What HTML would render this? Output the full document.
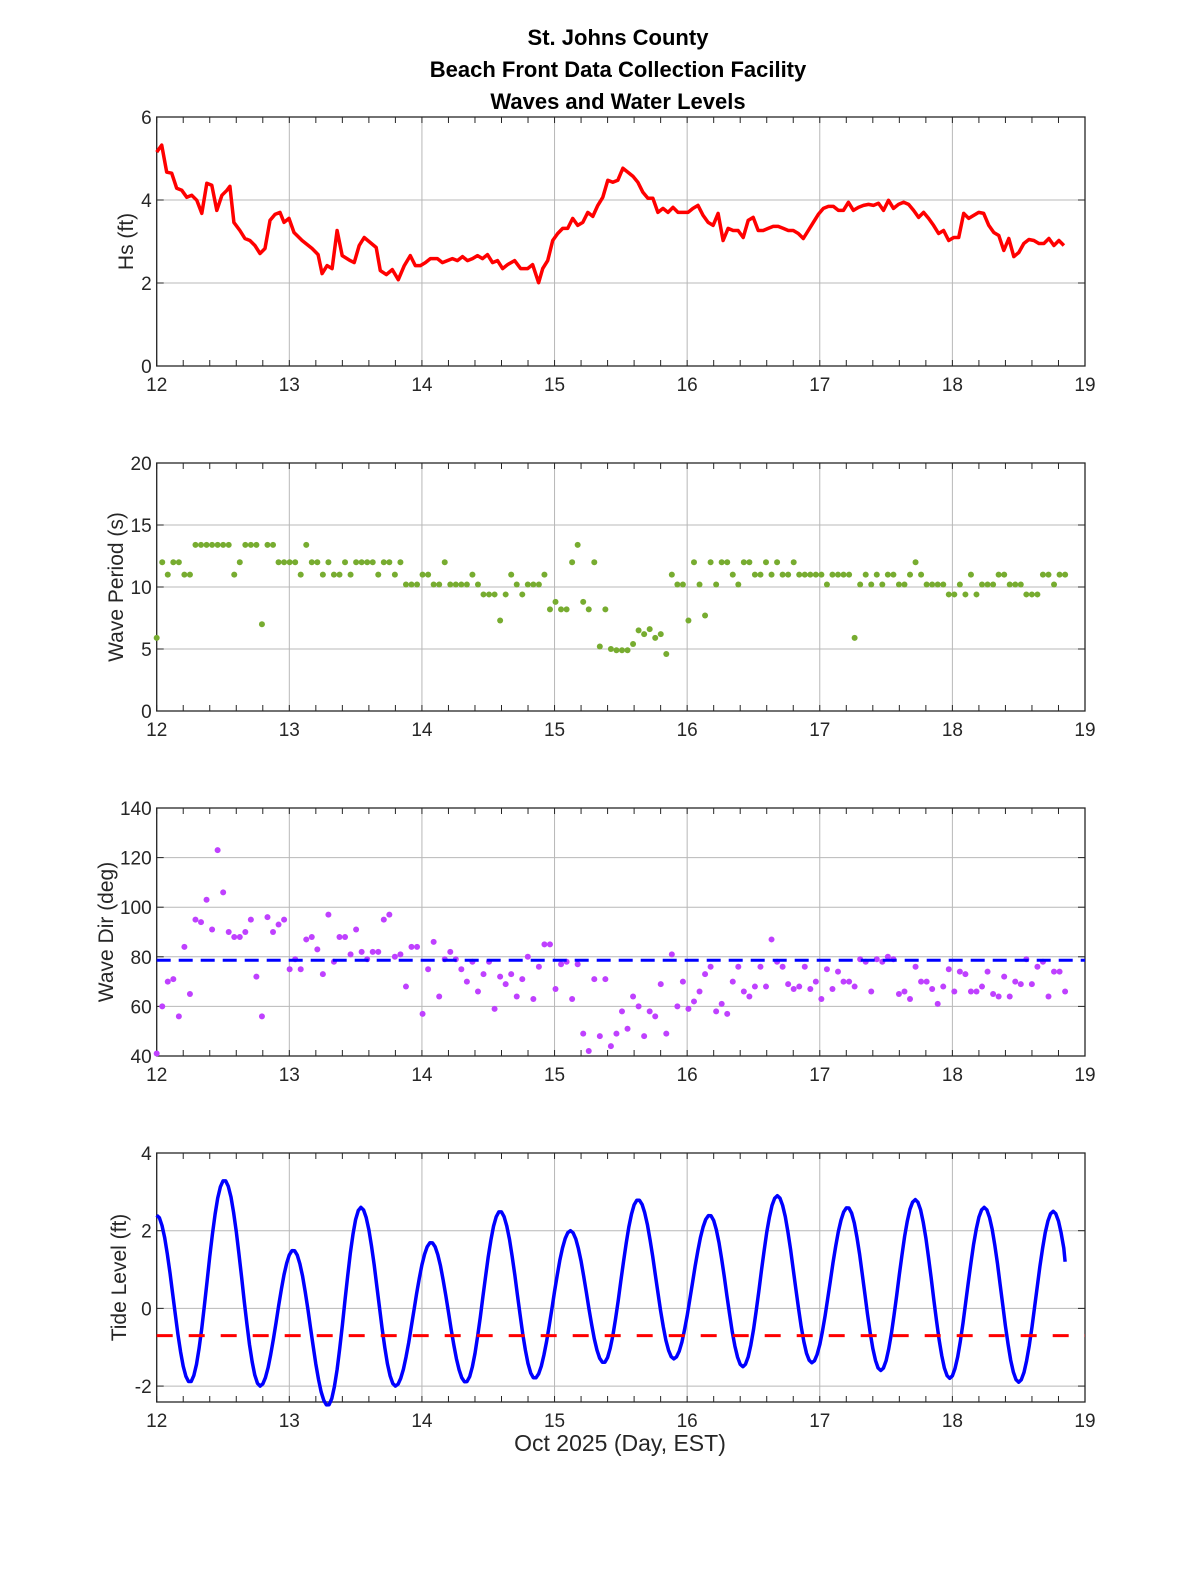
<!DOCTYPE html>
<html><head><meta charset="utf-8"><style>
html,body{margin:0;padding:0;background:#fff;}
svg text{font-family:"Liberation Sans",Arial,sans-serif;}
</style></head><body>
<svg id="s" width="1200" height="1575" xmlns="http://www.w3.org/2000/svg">
<text x="618" y="45" font-size="22" font-weight="bold" text-anchor="middle">St. Johns County</text>
<text x="618" y="77" font-size="22" font-weight="bold" text-anchor="middle">Beach Front Data Collection Facility</text>
<text x="618" y="109" font-size="22" font-weight="bold" text-anchor="middle">Waves and Water Levels</text>
<text x="620" y="1451" font-size="23" text-anchor="middle" fill="#262626">Oct 2025 (Day, EST)</text>
</svg>
<script>
var S=document.getElementById('s'),NS='http://www.w3.org/2000/svg';
function el(t,a,txt){var e=document.createElementNS(NS,t);for(var k in a)e.setAttribute(k,a[k]);if(txt!=null)e.textContent=txt;S.appendChild(e);return e;}
var X0=156.7,X1=1085;function X(d){return X0+(d-12)/7*(X1-X0);}
function axes(top,bot,ymin,ymax,step,label,lx){
  var Y=function(v){return bot-(v-ymin)/(ymax-ymin)*(bot-top);};
  for(var d=12;d<=19;d++){el('line',{x1:X(d),x2:X(d),y1:top,y2:bot,stroke:'#b8b8b8','stroke-width':1});
    el('text',{x:X(d),y:bot+25,'font-size':19,'text-anchor':'middle',fill:'#262626'},d);}
  for(var i=0;i<=35;i++){var x=X(12+i*0.2);
    el('line',{x1:x,x2:x,y1:bot,y2:bot-6,stroke:'#262626','stroke-width':1});
    el('line',{x1:x,x2:x,y1:top,y2:top+6,stroke:'#262626','stroke-width':1});}
  for(var v=Math.ceil(ymin/step)*step;v<=ymax+1e-9;v+=step){var y=Y(v);
    el('line',{x1:X0,x2:X1,y1:y,y2:y,stroke:'#b8b8b8','stroke-width':1});
    el('line',{x1:X0,x2:X0+7,y1:y,y2:y,stroke:'#262626','stroke-width':1});
    el('line',{x1:X1,x2:X1-7,y1:y,y2:y,stroke:'#262626','stroke-width':1});
    el('text',{x:X0-5,y:y+7,'font-size':19,'text-anchor':'end',fill:'#262626'},v);}
  el('rect',{x:X0,y:top,width:X1-X0,height:bot-top,fill:'none',stroke:'#262626','stroke-width':1.3});
  var cy=(top+bot)/2;el('text',{x:0,y:0,'font-size':21,'text-anchor':'middle',fill:'#262626',transform:'translate('+lx+','+cy+') rotate(-90)'},label);
  return Y;
}
// Panel 1
var Y1=axes(117,366,0,6,2,'Hs (ft)',133);
var hs="155,152 160,145 165,172 170,173 175,188 180,190 185,197 190,195 195,200 200,213 205,183 210,185 215,210 220,195 225,190 228,186 232,222 238,230 243,238 248,240 253,245 258,253 263,248 268,220 273,214 278,212 282,222 287,218 292,232 300,240 310,248 316,254 320,273 325,265 330,268 335,230 340,255 348,260 352,262 357,245 362,237 368,242 374,247 378,270 384,274 390,269 396,279 402,265 408,255 413,265 418,265 423,262 428,258 435,258 440,262 445,260 450,258 455,260 460,256 465,260 470,258 475,255 480,258 485,254 490,262 495,260 500,268 505,264 512,260 518,268 525,268 530,264 536,282 540,268 545,260 550,240 555,233 560,228 565,228 570,218 575,225 580,222 585,212 590,216 595,205 600,197 605,180 610,182 615,180 620,168 625,172 630,176 635,182 640,192 645,198 650,198 655,212 660,208 665,212 670,207 675,212 680,212 685,212 690,208 695,205 700,215 705,222 710,225 715,213 720,240 725,228 730,230 735,230 740,237 745,220 750,217 755,230 760,230 765,228 770,226 775,226 780,228 785,230 790,230 795,233 800,238 805,230 810,222 815,214 820,208 825,206 830,206 835,210 840,210 845,202 850,210 855,207 860,205 865,204 870,205 875,203 880,210 885,200 890,208 895,204 900,202 905,204 910,210 915,217 920,212 925,218 930,225 935,233 940,230 945,240 950,237 955,237 960,213 965,218 970,215 975,212 980,213 985,225 990,232 995,235 1000,250 1005,238 1010,256 1015,252 1020,243 1025,239 1030,240 1035,243 1040,243 1045,238 1050,245 1055,240 1060,245";
hs=hs.split(' ').map(function(p){var a=p.split(',');var x=+a[0],y=+a[1];return (156.7+(x-155)*928.3/926).toFixed(1)+','+(117+(y-117)*249/248).toFixed(1);}).join(' ');
el('polyline',{fill:'none',stroke:'#ff0000','stroke-width':3.5,'stroke-linejoin':'round',points:hs});
// Panel 2
var Y2=axes(463,711,0,20,5,'Wave Period (s)',123);
var per=[5.9,12,11,12,12,11,11,13.4,13.4,13.4,13.4,13.4,13.4,13.4,11,12,13.4,13.4,13.4,7,13.4,13.4,12,12,12,12,11,13.4,12,12,11,12,11,11,12,11,12,12,12,12,11,12,12,11,12,10.2,10.2,10.2,11,11,10.2,10.2,12,10.2,10.2,10.2,10.2,11,10.2,9.4,9.4,9.4,7.3,9.4,11,10.2,9.4,10.2,10.2,10.2,11,8.2,8.8,8.2,8.2,12,13.4,8.8,8.2,12,5.2,8.2,5,4.9,4.9,4.9,5.4,6.5,6.2,6.6,5.9,6.2,4.6,11,10.2,10.2,7.3,12,10.2,7.7,12,10.2,12,12,11,10.2,12,12,11,11,12,11,12,11,11,12,11,11,11,11,11,10.2,11,11,11,11,5.9,10.2,11,10.2,11,10.2,11,11,10.2,10.2,11,12,11,10.2,10.2,10.2,10.2,9.4,9.4,10.2,9.4,11,9.4,10.2,10.2,10.2,11,11,10.2,10.2,10.2,9.4,9.4,9.4,11,11,10.2,11,11];
per.forEach(function(v,i){el('circle',{cx:X(12+i*6.85/(per.length-1)),cy:Y2(v),r:3,fill:'#77ac30'});});
// Panel 3
var Y3=axes(808,1056,40,140,20,'Wave Dir (deg)',113);
var dir=[41,60,70,71,56,84,65,95,94,103,91,123,106,90,88,88,90,95,72,56,96,90,93,95,75,79,75,87,88,83,73,97,78,88,88,81,91,82,79,82,82,95,97,80,81,68,84,84,57,75,86,64,79,82,79,75,70,78,66,73,78,59,72,69,73,64,71,80,63,76,85,85,67,77,78,63,77,49,42,71,48,71,44,49,58,51,64,60,48,58,56,69,49,81,60,70,59,62,66,73,76,58,61,57,70,76,66,64,68,76,68,87,78,76,69,67,68,76,67,70,63,75,67,74,70,70,68,79,78,66,79,78,80,79,65,66,63,76,70,70,67,61,68,75,66,74,73,66,66,68,74,65,64,72,64,70,69,79,69,76,78,64,74,74,66];
dir.forEach(function(v,i){el('circle',{cx:X(12+i*6.85/(dir.length-1)),cy:Y3(v),r:3,fill:'#bf40ff'});});
el('line',{x1:X0,x2:X1,y1:Y3(78.6),y2:Y3(78.6),stroke:'#0000ff','stroke-width':3,'stroke-dasharray':'14,8'});
// Panel 4
var Y4=axes(1153,1402,-2.41,4,2,'Tide Level (ft)',126);
var ex=[[12.0,2.4],[12.25,-1.9],[12.51,3.3],[12.78,-2.0],[13.03,1.5],[13.29,-2.5],[13.54,2.6],[13.8,-2.0],[14.07,1.7],[14.33,-1.9],[14.59,2.5],[14.85,-1.8],[15.12,2.0],[15.37,-1.4],[15.63,2.8],[15.9,-1.3],[16.17,2.4],[16.42,-1.5],[16.68,2.9],[16.94,-1.4],[17.21,2.6],[17.46,-1.6],[17.72,2.8],[17.98,-1.8],[18.24,2.6],[18.5,-1.9],[18.76,2.5],[19.02,-1.9]];
var pts=[];
for(var t=12;t<=18.855;t+=0.02){for(var k=0;k<ex.length-1;k++){if(t>=ex[k][0]&&t<=ex[k+1][0]){var a=ex[k],b=ex[k+1],f=(t-a[0])/(b[0]-a[0]);var v=a[1]+(b[1]-a[1])*(1-Math.cos(Math.PI*f))/2;pts.push(X(t).toFixed(1)+','+Y4(v).toFixed(1));break;}}}
pts.push(X(18.85)+','+Y4(1.2));
el('polyline',{fill:'none',stroke:'#0000ff','stroke-width':3.5,'stroke-linejoin':'round',points:pts.join(' ')});
el('line',{x1:X0,x2:X1,y1:Y4(-0.7),y2:Y4(-0.7),stroke:'#ff0000','stroke-width':3,'stroke-dasharray':'16,16'});
</script>
</body></html>
